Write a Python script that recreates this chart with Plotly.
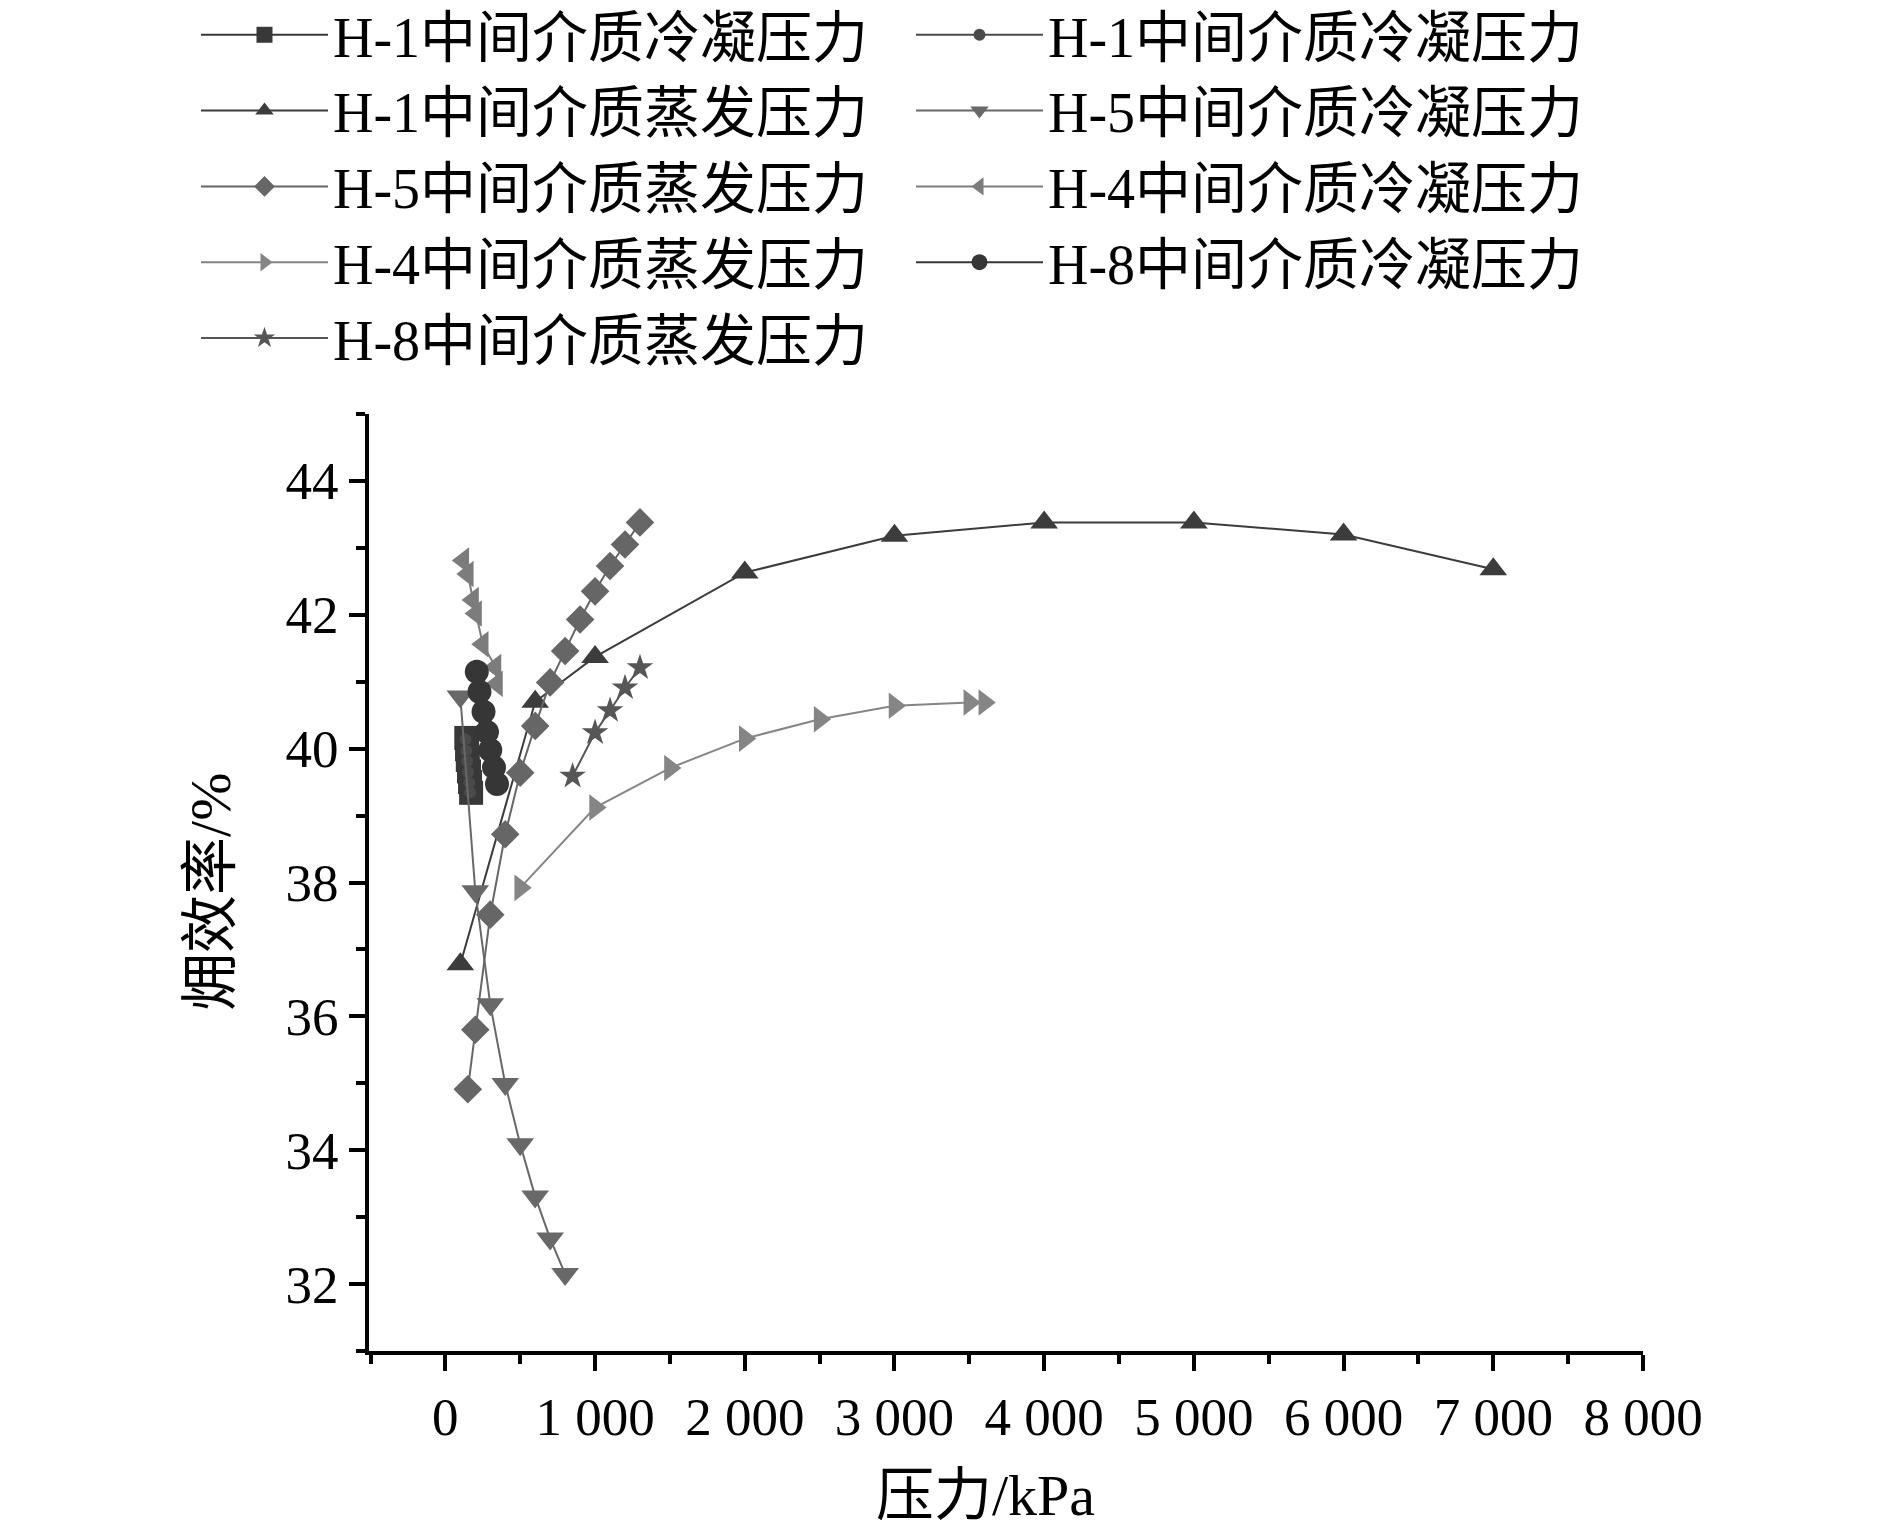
import plotly.graph_objects as go

# ---- data ----
h1c_sq_x = [140, 145, 150, 158, 165, 172]
h1c_sq_y = [40.16, 39.99, 39.83, 39.66, 39.50, 39.34]

h1c_ci_x = [135, 140, 146, 152, 160, 166]
h1c_ci_y = [40.14, 39.97, 39.81, 39.65, 39.49, 39.35]

h1e_x = [100, 600, 1000, 2000, 3000, 4000, 5000, 6000, 7000]
h1e_y = [36.78, 40.70, 41.37, 42.63, 43.18, 43.38, 43.38, 43.20, 42.68]

h5c_x = [100, 200, 300, 400, 500, 600, 700, 800]
h5c_y = [40.78, 37.87, 36.18, 34.99, 34.09, 33.31, 32.68, 32.15]

h5e_x = [150, 200, 300, 400, 500, 600, 700, 800, 900, 1000, 1100, 1200, 1300]
h5e_y = [34.91, 35.80, 37.52, 38.72, 39.64, 40.34, 40.99, 41.46, 41.93, 42.35, 42.73, 43.05, 43.38]

h4c_x = [120, 150, 185, 205, 250, 335, 345]
h4c_y = [42.81, 42.61, 42.22, 42.02, 41.56, 41.22, 40.97]

h4e_x = [500, 1000, 1500, 2000, 2500, 3000, 3500, 3600]
h4e_y = [37.92, 39.12, 39.71, 40.15, 40.44, 40.64, 40.69, 40.69]

h8c_x = [210, 228, 255, 278, 300, 325, 345]
h8c_y = [41.15, 40.85, 40.55, 40.25, 39.98, 39.72, 39.47]

h8e_x = [850, 1000, 1100, 1200, 1300]
h8e_y = [39.59, 40.24, 40.57, 40.91, 41.21]

x_tickvals = [0, 1000, 2000, 3000, 4000, 5000, 6000, 7000, 8000]
x_ticktext = ["0", "1 000", "2 000", "3 000", "4 000", "5 000", "6 000", "7 000", "8 000"]
y_tickvals = [32, 34, 36, 38, 40, 42, 44]

names = [
    "H-1中间介质冷凝压力", "H-1中间介质冷凝压力", "H-1中间介质蒸发压力",
    "H-5中间介质冷凝压力", "H-5中间介质蒸发压力", "H-4中间介质冷凝压力",
    "H-4中间介质蒸发压力", "H-8中间介质冷凝压力", "H-8中间介质蒸发压力",
]
x_title = "压力/kPa"
y_title = "㶲效率/%"

FONT = "Liberation Serif, Noto Sans CJK SC, serif"

series = [
    (h1c_sq_x, h1c_sq_y, "square", 24, "#383838"),
    (h1c_ci_x, h1c_ci_y, "circle", 12, "#4a4a4a"),
    (h1e_x, h1e_y, "triangle-up", 24, "#3c3c3c"),
    (h5c_x, h5c_y, "triangle-down", 24, "#686868"),
    (h5e_x, h5e_y, "diamond", 22, "#666666"),
    (h4c_x, h4c_y, "triangle-left", 23, "#7c7c7c"),
    (h4e_x, h4e_y, "triangle-right", 23, "#858585"),
    (h8c_x, h8c_y, "circle", 24, "#363636"),
    (h8e_x, h8e_y, "star", 20, "#565656"),
]

fig = go.Figure()
for (xs, ys, sym, sz, col), nm in zip(series, names):
    fig.add_trace(go.Scatter(
        x=xs, y=ys, name=nm, mode="lines+markers",
        line=dict(color=col, width=2),
        marker=dict(symbol=sym, size=sz, color=col, line=dict(width=0)),
    ))

fig.update_layout(
    width=1890, height=1533,
    paper_bgcolor="white", plot_bgcolor="white",
    margin=dict(l=361, r=255, t=406, b=190, autoexpand=False),
    font=dict(family=FONT, size=50, color="black"),
    showlegend=True,
    legend=dict(
        orientation="h", x=-0.1358, xanchor="left", y=1.4505, yanchor="top",
        itemwidth=127, entrywidth=573, entrywidthmode="pixels",
        font=dict(family=FONT, size=56, color="black"),
        bgcolor="rgba(0,0,0,0)", tracegroupgap=0, traceorder="normal",
    ),
    xaxis=dict(
        range=[-510, 8000], showgrid=False, zeroline=False,
        showline=True, linecolor="black", linewidth=4,
        ticks="outside", ticklen=16, tickwidth=4, tickcolor="black",
        tickvals=x_tickvals, ticktext=x_ticktext,
        tickfont=dict(family=FONT, size=53, color="black"),
        minor=dict(ticks="outside", ticklen=9, tickwidth=4, tickcolor="black", dtick=500, tick0=0),
    ),
    yaxis=dict(
        range=[31, 45], showgrid=False, zeroline=False,
        showline=True, linecolor="black", linewidth=4,
        ticks="outside", ticklen=16, tickwidth=4, tickcolor="black",
        tickvals=y_tickvals,
        tickfont=dict(family=FONT, size=53, color="black"),
        minor=dict(ticks="outside", ticklen=9, tickwidth=4, tickcolor="black", dtick=1, tick0=31),
    ),
    annotations=[
        dict(text=x_title, xref="paper", yref="paper", x=0.4843, y=0,
             xanchor="center", yanchor="middle", yshift=-144, showarrow=False,
             font=dict(family=FONT, size=58, color="black")),
        dict(text=y_title, xref="paper", yref="paper", x=-0.124, y=0.4899,
             xanchor="center", yanchor="middle", textangle=-90, showarrow=False,
             font=dict(family=FONT, size=58, color="black")),
    ],
)

fig.write_html("out.html")
